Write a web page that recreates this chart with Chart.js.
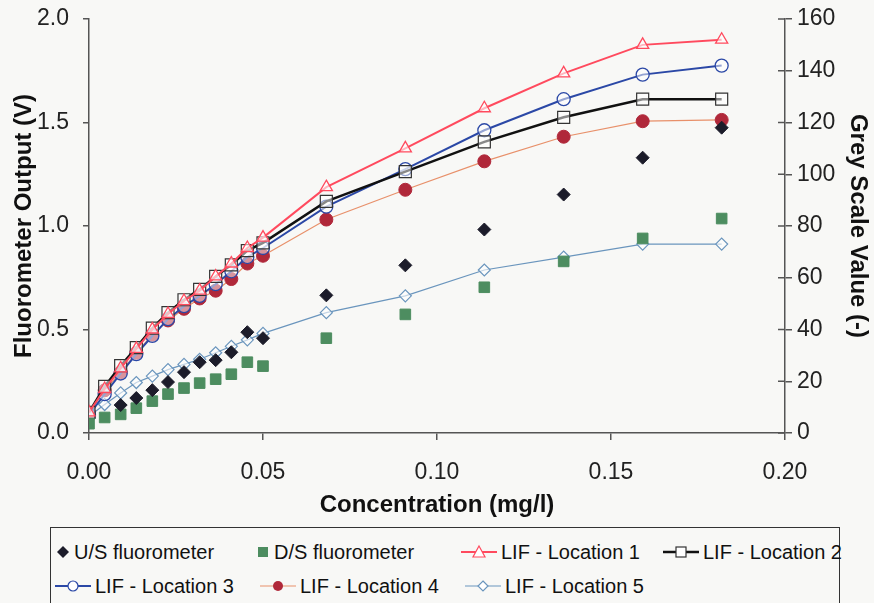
<!DOCTYPE html>
<html>
<head>
<meta charset="utf-8">
<script src="https://cdn.jsdelivr.net/npm/chart.js@4/dist/chart.umd.min.js"></script>
<style>
    html, body { margin: 0; padding: 0; background: #f8f8f6; }
    body { width: 874px; height: 603px; overflow: hidden; position: relative; font-family: "Liberation Sans", Arial, sans-serif; }
    #chart { position: absolute; left: 0; top: 0; }
    #legend { position: absolute; left: 50px; top: 527px; width: 790px; height: 100px; border: 1.5px solid #333; box-sizing: border-box; }
    .item { position: absolute; display: flex; align-items: center; font-size: 20px; color: #111; white-space: nowrap; height: 30px; }
    .item svg { margin-right: 4px; }
</style>
</head>
<body>
<canvas id="chart" width="874" height="520"></canvas>
<div id="legend"></div>
<script>
// concentration (mg/l) shared by all series
const conc = [0, 0.0045, 0.0091, 0.0136, 0.0182, 0.0227, 0.0273, 0.0318, 0.0364, 0.0409, 0.0455, 0.05,
              0.0682, 0.0909, 0.1136, 0.1364, 0.1591, 0.1818];

// fluorometer readings (V), left axis
const usFluor = [null, null, 0.135, 0.169, 0.207, 0.246, 0.294, 0.342, 0.352, 0.39, 0.487, 0.458,
                 0.665, 0.81, 0.983, 1.152, 1.33, 1.475];
const dsFluor = [0.045, 0.075, 0.09, 0.12, 0.154, 0.188, 0.217, 0.241, 0.26, 0.284, 0.342, 0.323,
                 0.458, 0.573, 0.704, 0.829, 0.94, 1.036];

// LIF grey scale values (-), right axis
const lif1 = [8, 17, 25, 32.5, 40, 46, 51, 55, 60.5, 65.5, 71.5, 75.5, 95, 110, 125.5, 139, 150, 152];
const lif2 = [8, 18, 26, 33, 40.5, 46.5, 51.5, 55.5, 60.5, 65, 70.5, 73.5, 89.5, 101, 112.5, 122, 129, 129];
const lif3 = [7, 15, 23, 30.5, 37.5, 44, 49, 53, 57.5, 62.5, 68, 71.5, 87.5, 102, 117, 129, 138.5, 142];
const lif4 = [7.7, 16.5, 23.5, 31, 38, 43.5, 48, 52, 55, 59.5, 65.5, 68.5, 82.5, 94, 105, 114.5, 120.5, 121];
const lif5 = [6.5, 11, 15.5, 19.5, 22, 24.5, 26.5, 28.5, 31, 33.5, 36, 38.5, 46.5, 53, 63, 68, 73, 73];

const xTicks = [0, 0.05, 0.10, 0.15, 0.20];

function pts(values) {
    return conc.map((x, i) => ({ x: x, y: values[i] })).filter(p => p.y !== null);
}

const FONT = '"Liberation Sans", Arial, sans-serif';
const AXIS = '#555';

// fixed axis box size, no extra label padding
function fixWidth(s) {
    s.width = 89;
    s.paddingTop = 0;
    s.paddingBottom = 0;
}

// right axis ticks cross the axis line
const crossTicks = {
    id: 'crossTicks',
    afterDraw(chart) {
        const s = chart.scales.y1;
        const ctx = chart.ctx;
        ctx.save();
        ctx.strokeStyle = AXIS;
        ctx.lineWidth = 1.5;
        s.ticks.forEach(t => {
            const y = s.getPixelForValue(t.value);
            ctx.beginPath();
            ctx.moveTo(s.left - 7, y);
            ctx.lineTo(s.left, y);
            ctx.stroke();
        });
        ctx.restore();
    }
};

const ctx = document.getElementById('chart').getContext('2d');
new Chart(ctx, {
    type: 'scatter',
    data: {
        datasets: [
            { label: 'U/S fluorometer', data: pts(usFluor), yAxisID: 'y', showLine: false,
              pointStyle: 'rectRot', pointRadius: 6.5, backgroundColor: '#1c1c2a', borderColor: '#1c1c2a', pointBorderWidth: 1 },
            { label: 'D/S fluorometer', data: pts(dsFluor), yAxisID: 'y', showLine: false,
              pointStyle: 'rect', pointRadius: 7.5, backgroundColor: '#4d8d60', borderColor: '#4d8d60', pointBorderWidth: 1 },
            { label: 'LIF - Location 1', data: pts(lif1), yAxisID: 'y1', showLine: true,
              borderColor: '#ff4a5e', borderWidth: 2, pointStyle: 'triangle', pointRadius: 7,
              pointBackgroundColor: 'rgba(255,255,255,0.6)', pointBorderColor: '#ff4a5e', pointBorderWidth: 1.3 },
            { label: 'LIF - Location 2', data: pts(lif2), yAxisID: 'y1', showLine: true,
              borderColor: '#111', borderWidth: 2.5, pointStyle: 'rect', pointRadius: 8.5,
              pointBackgroundColor: 'rgba(255,255,255,0.5)', pointBorderColor: '#333', pointBorderWidth: 1.2 },
            { label: 'LIF - Location 3', data: pts(lif3), yAxisID: 'y1', showLine: true,
              borderColor: '#2b48a6', borderWidth: 2, pointStyle: 'circle', pointRadius: 6.5,
              pointBackgroundColor: 'rgba(255,255,255,0.5)', pointBorderColor: '#2b48a6', pointBorderWidth: 1.3 },
            { label: 'LIF - Location 4', data: pts(lif4), yAxisID: 'y1', showLine: true,
              borderColor: '#e8906a', borderWidth: 1.2, pointStyle: 'circle', pointRadius: 6.5,
              pointBackgroundColor: '#b0283a', pointBorderColor: '#b0283a', pointBorderWidth: 1 },
            { label: 'LIF - Location 5', data: pts(lif5), yAxisID: 'y1', showLine: true,
              borderColor: '#6a95bd', borderWidth: 1.2, pointStyle: 'rectRot', pointRadius: 6,
              pointBackgroundColor: 'rgba(255,255,255,0.6)', pointBorderColor: '#6a95bd', pointBorderWidth: 1.2 }
        ]
    },
    options: {
        responsive: false,
        animation: false,
        layout: { padding: { top: 19, left: 0, right: 0, bottom: 0 } },
        plugins: {
            legend: { display: false },
            tooltip: { enabled: false }
        },
        scales: {
            x: {
                type: 'linear',
                min: 0,
                max: 0.2,
                afterFit: s => { s.height = 87; },
                afterBuildTicks: s => { s.ticks = xTicks.map(v => ({ value: v })); },
                ticks: { callback: v => v.toFixed(2), font: { family: FONT, size: 23 }, color: '#222', padding: 19, maxRotation: 0 },
                grid: { drawOnChartArea: false, tickLength: 7, color: AXIS, lineWidth: 1.5 },
                border: { color: AXIS, width: 1.5 },
                title: { display: true, text: 'Concentration (mg/l)', font: { family: FONT, size: 24, weight: 'bold' }, color: '#111', padding: { top: 2, bottom: 0 } }
            },
            y: {
                position: 'left',
                min: 0,
                max: 2,
                afterFit: fixWidth,
                ticks: { stepSize: 0.5, callback: v => v.toFixed(1), font: { family: FONT, size: 23 }, color: '#222', padding: 14 },
                grid: { drawOnChartArea: false, tickLength: 6, color: AXIS, lineWidth: 1.5 },
                border: { color: AXIS, width: 1.5 },
                title: { display: true, text: 'Fluorometer Output (V)', font: { family: FONT, size: 24, weight: 'bold' }, color: '#111', padding: { top: 10, bottom: 0 } }
            },
            y1: {
                position: 'right',
                min: 0,
                max: 160,
                afterFit: fixWidth,
                ticks: { stepSize: 20, font: { family: FONT, size: 23 }, color: '#222', padding: 5 },
                grid: { drawOnChartArea: false, tickLength: 7, color: AXIS, lineWidth: 1.5 },
                border: { color: AXIS, width: 1.5 },
                title: { display: true, text: 'Grey Scale Value (-)', font: { family: FONT, size: 24, weight: 'bold' }, color: '#111', padding: { top: 2, bottom: 0 } }
            }
        }
    },
    plugins: [crossTicks]
});

// legend (html), marker glyphs match the dataset styles
const legendItems = [
    { text: 'U/S fluorometer', left: 5, top: 9, marker: '<svg width="14" height="14"><polygon points="7,1 13,7 7,13 1,7" fill="#1c1c2a"/></svg>' },
    { text: 'D/S fluorometer', left: 205, top: 9, marker: '<svg width="14" height="14"><rect x="2" y="2" width="10" height="10" fill="#4d8d60"/></svg>' },
    { text: 'LIF - Location 1', left: 410, top: 9, marker: '<svg width="36" height="16"><line x1="0" y1="8" x2="36" y2="8" stroke="#ff4a5e" stroke-width="2"/><polygon points="18,2 24,13 12,13" fill="#fff" stroke="#ff4a5e" stroke-width="1.2"/></svg>' },
    { text: 'LIF - Location 2', left: 612, top: 9, marker: '<svg width="36" height="16"><line x1="0" y1="8" x2="36" y2="8" stroke="#111" stroke-width="2.5"/><rect x="13" y="3" width="10" height="10" fill="#fff" stroke="#333" stroke-width="1.2"/></svg>' },
    { text: 'LIF - Location 3', left: 4, top: 43, marker: '<svg width="36" height="16"><line x1="0" y1="8" x2="36" y2="8" stroke="#2b48a6" stroke-width="2"/><circle cx="18" cy="8" r="5" fill="#fff" stroke="#2b48a6" stroke-width="1.2"/></svg>' },
    { text: 'LIF - Location 4', left: 209, top: 43, marker: '<svg width="36" height="16"><line x1="0" y1="8" x2="36" y2="8" stroke="#e8906a" stroke-width="1.2"/><circle cx="18" cy="8" r="5" fill="#b0283a"/></svg>' },
    { text: 'LIF - Location 5', left: 414, top: 43, marker: '<svg width="36" height="16"><line x1="0" y1="8" x2="36" y2="8" stroke="#6a95bd" stroke-width="1.2"/><polygon points="18,3 23,8 18,13 13,8" fill="#fff" stroke="#6a95bd" stroke-width="1.2"/></svg>' }
];

const legend = document.getElementById('legend');
legendItems.forEach(it => {
    const el = document.createElement('div');
    el.className = 'item';
    el.style.left = it.left + 'px';
    el.style.top = it.top + 'px';
    el.innerHTML = it.marker + '<span>' + it.text + '</span>';
    legend.appendChild(el);
});
</script>
</body>
</html>
